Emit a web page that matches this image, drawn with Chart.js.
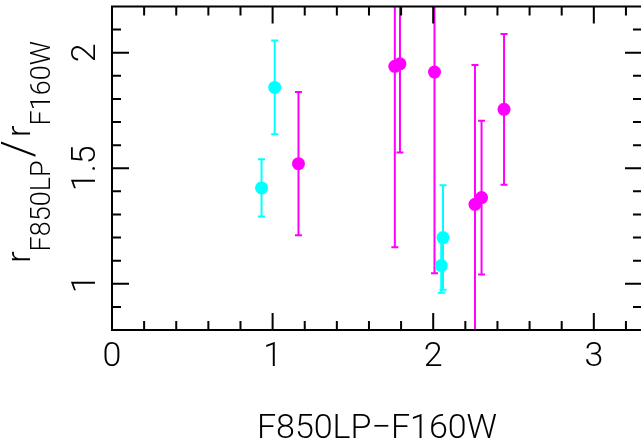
<!DOCTYPE html>
<html>
<head>
<meta charset="utf-8">
<script src="https://cdn.jsdelivr.net/npm/chart.js@4.4.1/dist/chart.umd.min.js"></script>
<style>
html,body{margin:0;padding:0;background:#fff;overflow:hidden;}
#wrap{width:660px;height:447px;}
</style>
</head>
<body>
<div id="wrap"><canvas id="c" width="660" height="447"></canvas></div>
<script>
// ---- data ----
const cyanX = [0.931, 1.013, 2.061, 2.050];
const cyanY = [1.415, 1.850, 1.200, 1.079];
const cyanErr = [0.124, 0.203, 0.226, 0.118];

const magentaX = [1.161, 1.761, 1.793, 2.008, 2.260, 2.301, 2.441];
const magentaY = [1.520, 1.941, 1.952, 1.916, 1.344, 1.373, 1.755];
const magentaErr = [0.310, 0.783, 0.384, 0.870, 0.603, 0.333, 0.326];

const xMajorTicks = [0, 1, 2, 3];
const xMinorTicks = [0.2, 0.4, 0.6, 0.8, 1.2, 1.4, 1.6, 1.8, 2.2, 2.4, 2.6, 2.8, 3.2];
const yMajorTicks = [1, 1.5, 2];
const yMinorTicks = [0.9, 1.1, 1.2, 1.3, 1.4, 1.6, 1.7, 1.8, 1.9, 2.1];
const xTickLabels = ['0', '1', '2', '3'];
const yTickLabels = ['1', '1.5', '2'];

const xRange = [0, 3.3];
const yRange = [0.8, 2.2];

const FONT = 'Roboto, "Liberation Sans", Arial, sans-serif';
const W = '300 ';

function pts(xs, ys) { return xs.map((x, i) => ({x: x, y: ys[i]})); }

const errorBars = {
  id: 'errorBars',
  beforeDatasetsDraw(chart) {
    const ctx = chart.ctx, a = chart.chartArea;
    const xs = chart.scales.x, ys = chart.scales.y;
    ctx.save();
    ctx.beginPath();
    ctx.rect(a.left, a.top, a.right - a.left, a.bottom - a.top);
    ctx.clip();
    chart.data.datasets.forEach(ds => {
      ctx.strokeStyle = ds.backgroundColor;
      ctx.lineWidth = 2;
      ds.data.forEach((p, i) => {
        const e = ds.errors[i];
        const px = xs.getPixelForValue(p.x);
        const pt = ys.getPixelForValue(p.y + e);
        const pb = ys.getPixelForValue(p.y - e);
        ctx.beginPath();
        ctx.moveTo(px, pt); ctx.lineTo(px, pb);
        ctx.moveTo(px - 3.5, pt); ctx.lineTo(px + 3.5, pt);
        ctx.moveTo(px - 3.5, pb); ctx.lineTo(px + 3.5, pb);
        ctx.stroke();
      });
    });
    ctx.restore();
  }
};

const frame = {
  id: 'frame',
  afterDraw(chart) {
    const ctx = chart.ctx, a = chart.chartArea;
    const xs = chart.scales.x, ys = chart.scales.y;
    ctx.save();
    ctx.strokeStyle = '#000';
    ctx.lineWidth = 2;
    ctx.strokeRect(a.left, a.top, a.right - a.left, a.bottom - a.top);
    const tick = (vals, len) => {
      vals.forEach(v => {
        const px = xs.getPixelForValue(v);
        ctx.beginPath();
        ctx.moveTo(px, a.bottom); ctx.lineTo(px, a.bottom - len);
        ctx.moveTo(px, a.top); ctx.lineTo(px, a.top + len);
        ctx.stroke();
      });
    };
    const ytick = (vals, len) => {
      vals.forEach(v => {
        const py = ys.getPixelForValue(v);
        ctx.beginPath();
        ctx.moveTo(a.left, py); ctx.lineTo(a.left + len, py);
        ctx.moveTo(a.right, py); ctx.lineTo(a.right - len, py);
        ctx.stroke();
      });
    };
    tick(xMajorTicks, 17); tick(xMinorTicks, 9);
    ytick(yMajorTicks, 17); ytick(yMinorTicks, 9);

    // tick labels
    ctx.fillStyle = '#000';
    ctx.font = W + '34px ' + FONT;
    ctx.textAlign = 'center';
    ctx.textBaseline = 'middle';
    xMajorTicks.forEach((v, i) => {
      ctx.fillText(xTickLabels[i], xs.getPixelForValue(v), 357);
    });
    yMajorTicks.forEach((v, i) => {
      ctx.save();
      ctx.translate(86, ys.getPixelForValue(v));
      ctx.rotate(-Math.PI / 2);
      ctx.fillText(yTickLabels[i], 0, 0);
      ctx.restore();
    });

    // x title
    ctx.fillText('F850LP\u2212F160W', (a.left + 642) / 2, 429);

    // y title with subscripts, rotated
    const parts = [
      {t: 'r', f: 34, x: 30, g: 0}, {t: 'F850LP', f: 27, x: 50, g: 3},
      {t: '/', f: 44, x: 33, g: 3},
      {t: 'r', f: 34, x: 30, g: 0}, {t: 'F160W', f: 27, x: 50, g: 0}
    ];
    let total = 0;
    parts.forEach(p => { ctx.font = W + p.f + 'px ' + FONT; p.w = ctx.measureText(p.t).width + p.g; total += p.w; });
    ctx.textAlign = 'left';
    ctx.textBaseline = 'alphabetic';
    const cy = 152;
    let pos = cy + total / 2;
    parts.forEach(p => {
      ctx.save();
      ctx.font = W + p.f + 'px ' + FONT;
      ctx.translate(p.x, pos);
      ctx.rotate(-Math.PI / 2);
      ctx.fillText(p.t, 0, 0);
      ctx.restore();
      pos -= p.w;
    });
    ctx.restore();
  }
};

new Chart(document.getElementById('c'), {
  type: 'scatter',
  data: {
    datasets: [
      {label: 'cyan', data: pts(cyanX, cyanY), errors: cyanErr,
       backgroundColor: '#00ffff', borderWidth: 0, pointRadius: 6.5},
      {label: 'magenta', data: pts(magentaX, magentaY), errors: magentaErr,
       backgroundColor: '#ff00ff', borderWidth: 0, pointRadius: 6.5}
    ]
  },
  options: {
    responsive: false,
    animation: false,
    events: [],
    layout: {padding: {left: 112, right: 18, top: 6, bottom: 117}},
    plugins: {legend: {display: false}, tooltip: {enabled: false}},
    scales: {
      x: {type: 'linear', display: false, min: xRange[0], max: xRange[1]},
      y: {type: 'linear', display: false, min: yRange[0], max: yRange[1]}
    }
  },
  plugins: [errorBars, frame]
});
</script>
</body>
</html>
